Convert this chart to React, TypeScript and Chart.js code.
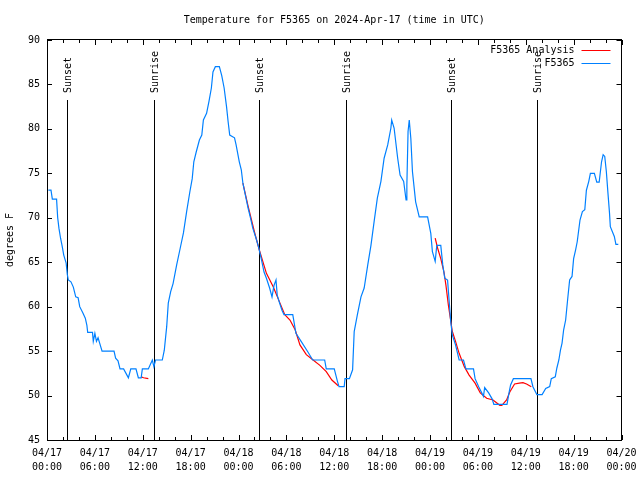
import React, { useEffect, useRef } from 'react';
import { Chart, registerables } from 'chart.js';

Chart.register(...registerables);

const FONT = '"DejaVu Sans Mono", "Liberation Mono", monospace';
const TITLE = 'Temperature for F5365 on 2024-Apr-17 (time in UTC)';
const Y_TITLE = 'degrees F';
const SERIES_NAMES = ['F5365 Analysis', 'F5365'];
const SERIES_COLORS = ['#ff0000', '#0080ff'];
const MONTH = '04';
const START_DAY = 17;
const X_MIN = 0;
const X_MAX = 72;
const X_MAJOR = 6;
const X_MINOR = 2;
const Y_MIN = 45;
const Y_MAX = 90;
const Y_STEP = 5;

const sunEventHours = [2.55, 13.44, 26.6, 37.5, 50.65, 61.43];
const sunEventLabels = ['Sunset', 'Sunrise', 'Sunset', 'Sunrise', 'Sunset', 'Sunrise'];

// Observed F5365 (hours since 04/17 00:00 UTC, deg F)
const obsHours = [
  0.17, 0.5, 0.67, 1.2, 1.34, 1.5, 1.7, 1.9, 2.1, 2.4, 2.55, 2.67, 3.0, 3.3, 3.6, 3.9, 4.1, 4.5, 4.8, 5.0,
  5.1, 5.7, 5.8, 6.0, 6.2, 6.4, 6.6, 6.9, 8.4, 8.6, 8.9, 9.15, 9.6, 10.2, 10.5, 11.15, 11.45, 11.8, 11.95, 12.7,
  13.2, 13.4, 13.6, 14.45, 14.7, 15.0, 15.2, 15.5, 15.8, 16.25, 16.7, 17.1, 17.5, 17.9, 18.2, 18.4, 18.7, 19.1, 19.4, 19.6,
  20.0, 20.3, 20.6, 20.8, 21.1, 21.6, 21.9, 22.2, 22.5, 22.7, 22.9, 23.5, 23.7, 23.9, 24.1, 24.35, 24.55, 24.85, 25.2, 25.5,
  25.8, 26.2, 26.5, 26.85, 27.2, 27.5, 27.9, 28.2, 28.45, 28.7, 28.85, 29.15, 29.45, 29.7, 30.8, 31.2, 31.85, 32.7, 33.3, 34.8,
  35.0, 36.0, 36.4, 36.6, 37.25, 37.35, 37.9, 38.3, 38.5, 38.9, 39.35, 39.75, 40.2, 40.6, 41.0, 41.4, 41.85, 42.25, 42.7, 43.1,
  43.2, 43.5, 43.95, 44.25, 44.7, 45.0, 45.1, 45.25, 45.4, 45.6, 45.8, 46.2, 46.65, 47.7, 48.1, 48.3, 48.65, 48.85, 49.35, 49.6,
  49.85, 50.2, 50.6, 50.8, 51.2, 51.65, 52.2, 52.5, 53.45, 53.65, 54.1, 54.5, 54.7, 54.85, 55.35, 55.8, 56.0, 57.65, 57.9, 58.1,
  58.45, 60.65, 60.9, 61.4, 62.05, 62.5, 63.0, 63.2, 63.7, 63.9, 64.15, 64.35, 64.55, 64.75, 65.0, 65.25, 65.5, 65.8, 66.0, 66.25,
  66.45, 66.8, 67.1, 67.4, 67.6, 67.9, 68.1, 68.6, 68.9, 69.2, 69.5, 69.7, 69.9, 70.1, 70.3, 70.5, 70.6, 71.1, 71.3, 71.6,
];
const obsTemps = [
  73.1, 73.1, 72.1, 72.1, 70, 68.8, 67.7, 66.8, 65.8, 64.9, 63.6, 63, 62.8, 62.2, 61.1, 61, 60, 59.3, 58.7, 57.9,
  57.1, 57.1, 56.1, 57, 56.1, 56.5, 55.9, 55, 55, 54.2, 53.9, 53, 53, 52, 53, 53, 52, 52, 53, 53,
  54, 53.25, 54, 54, 55.1, 57.75, 60.4, 61.7, 62.6, 64.7, 66.6, 68.3, 70.7, 72.9, 74.4, 76.3, 77.4, 78.75, 79.3, 81,
  81.75, 83.1, 84.6, 86.4, 87, 87, 86, 84.6, 82.5, 80.8, 79.3, 79, 78.2, 77.25, 76.3, 75.4, 73.9, 72.6, 71.1, 70,
  68.8, 67.7, 66.75, 65.4, 63.9, 63.2, 62.1, 61.1, 62.4, 63, 61.3, 60.4, 59.6, 59.1, 59.1, 57, 56.1, 54.9, 54, 54,
  53, 53, 51.6, 51, 51, 51.9, 51.9, 52.9, 57.2, 59.1, 61.1, 62.1, 64.7, 66.9, 69.6, 72.2, 74.1, 76.7, 78.2, 80.1,
  81, 80.1, 76.7, 74.8, 74.1, 72, 73.7, 79.7, 81, 78.9, 75.2, 71.8, 70.1, 70.1, 68.25, 66.2, 65.1, 66.9, 66.9, 64.7,
  63.2, 63, 58.3, 56.8, 55.7, 54, 54, 53, 53, 51.9, 51, 50.3, 49.9, 50.9, 50.3, 49.6, 49, 49, 50.3, 51.2,
  51.9, 51.9, 51, 50.1, 50.1, 50.8, 51, 51.9, 52.1, 53.1, 54, 55.1, 55.9, 57.4, 58.5, 60.8, 63, 63.4, 65.4, 66.4,
  67.3, 69.75, 70.7, 70.9, 73.1, 74.1, 75, 75, 74, 74, 76.3, 77.1, 76.9, 75.2, 72.8, 70.5, 69, 67.9, 67, 67,
];

// Analysis F5365 (null = gap between analysis runs)
const anaHours = [
  11.8, 12.1, 12.7, 13.0,
  24.55, 25.2, 26.0, 26.6, 27.5, 28.35, 29.2, 29.8, 30.45, 31.1, 31.7, 32.5, 33.35, 34.2, 35.0, 35.7, 36.5, 42.0,
  48.65, 48.95, 49.35, 49.75, 50.0, 50.3, 50.55, 50.8, 51.2, 51.65, 52.3, 52.9, 53.65, 54.3, 55.1, 55.9, 56.75, 57.0,
  57.6, 58.0, 58.6, 59.2, 59.65, 60.1, 60.7,
];
const anaTemps = [
  52.1, 52.0, 51.9, null,
  73.9, 71.3, 68.4, 66.4, 63.75, 62.25, 60.4, 59.1, 58.5, 57.4, 55.7, 54.6, 54.0, 53.4, 52.7, 51.75, 51.1, null,
  67.7, 66.6, 65.4, 63.9, 62.4, 60.2, 58.7, 57.2, 56.1, 54.75, 53.25, 52.3, 51.4, 50.3, 49.7, 49.5, 48.9, 48.9,
  49.5, 50.4, 51.3, 51.4, 51.45, 51.3, 51.0,
];

const toPoints = (xs: number[], ys: (number | null)[]) => xs.map((x, i) => ({ x, y: ys[i] }));

const decorPlugin = {
  id: 'gnuplotDecor',
  beforeDatasetsDraw(chart: any) {
    const { ctx, chartArea, scales } = chart;
    const xs = scales.x;
    ctx.save();
    ctx.strokeStyle = '#000';
    ctx.fillStyle = '#000';
    ctx.lineWidth = 1;
    ctx.font = `10px ${FONT}`;
    sunEventHours.forEach((h, i) => {
      const px = Math.round(xs.getPixelForValue(h)) + 0.5;
      ctx.beginPath();
      ctx.moveTo(px, chartArea.top + 60);
      ctx.lineTo(px, chartArea.bottom);
      ctx.stroke();
      ctx.save();
      ctx.translate(px + 1, chartArea.top + 53);
      ctx.rotate(-Math.PI / 2);
      ctx.textAlign = 'left';
      ctx.textBaseline = 'middle';
      ctx.fillText(sunEventLabels[i], 0, 0);
      ctx.restore();
    });
    ctx.restore();
  },
  afterDatasetsDraw(chart: any) {
    const { ctx, chartArea, scales } = chart;
    const xs = scales.x;
    const ys = scales.y;
    const { left, right, top, bottom } = chartArea;
    ctx.save();
    ctx.strokeStyle = '#000';
    ctx.lineWidth = 1;
    ctx.beginPath();
    for (let v = X_MIN; v <= X_MAX; v += X_MINOR) {
      const px = Math.round(xs.getPixelForValue(v)) + 0.5;
      const len = v % X_MAJOR === 0 ? 5 : 3;
      ctx.moveTo(px, bottom);
      ctx.lineTo(px, bottom - len);
      ctx.moveTo(px, top);
      ctx.lineTo(px, top + len);
    }
    for (let v = Y_MIN; v <= Y_MAX; v += Y_STEP) {
      const py = Math.round(ys.getPixelForValue(v)) + 0.5;
      ctx.moveTo(left, py);
      ctx.lineTo(left + 5, py);
      ctx.moveTo(right, py);
      ctx.lineTo(right - 5, py);
    }
    ctx.stroke();
    ctx.strokeRect(Math.round(left) + 0.5, Math.round(top) - 0.5, Math.round(right - left) - 1, Math.round(bottom - top) + 1);
    ctx.restore();
  },
  afterDraw(chart: any) {
    const { ctx, chartArea } = chart;
    ctx.save();
    ctx.fillStyle = '#000';
    ctx.font = `10px ${FONT}`;
    ctx.textBaseline = 'middle';
    ctx.textAlign = 'center';
    ctx.fillText(TITLE, (chartArea.left + chartArea.right) / 2, 20);
    // y title
    ctx.save();
    ctx.translate(10, (chartArea.top + chartArea.bottom) / 2);
    ctx.rotate(-Math.PI / 2);
    ctx.fillText(Y_TITLE, 0, 0);
    ctx.restore();
    // legend
    ctx.textAlign = 'right';
    SERIES_NAMES.forEach((name, i) => {
      const y = chartArea.top + 10 + i * 13;
      ctx.fillStyle = '#000';
      ctx.fillText(name, chartArea.right - 47, y);
      ctx.strokeStyle = SERIES_COLORS[i];
      ctx.lineWidth = 1;
      ctx.beginPath();
      ctx.moveTo(chartArea.right - 40, Math.round(y) + 0.5);
      ctx.lineTo(chartArea.right - 11, Math.round(y) + 0.5);
      ctx.stroke();
    });
    ctx.restore();
  },
};

export default function App() {
  const canvasRef = useRef<HTMLCanvasElement | null>(null);

  useEffect(() => {
    if (!canvasRef.current) return;
    const tickFont = { family: FONT, size: 10, lineHeight: 1.35 };
    const chart = new Chart(canvasRef.current, {
      type: 'line',
      data: {
        datasets: [
          {
            label: SERIES_NAMES[1],
            data: toPoints(obsHours, obsTemps),
            borderColor: SERIES_COLORS[1],
            borderWidth: 1.2,
            pointRadius: 0,
            tension: 0,
            fill: false,
          },
          {
            label: SERIES_NAMES[0],
            data: toPoints(anaHours, anaTemps),
            borderColor: SERIES_COLORS[0],
            borderWidth: 1.2,
            pointRadius: 0,
            tension: 0,
            fill: false,
            spanGaps: false,
          },
        ],
      },
      options: {
        animation: false,
        responsive: false,
        maintainAspectRatio: false,
        devicePixelRatio: 1,
        layout: { padding: { top: 40, right: 18.5, left: 0, bottom: 0 } },
        plugins: {
          legend: { display: false },
          title: { display: false },
          tooltip: { enabled: false },
        },
        scales: {
          x: {
            type: 'linear',
            min: X_MIN,
            max: X_MAX,
            grid: { display: false, drawTicks: false },
            border: { display: false },
            ticks: {
              stepSize: X_MAJOR,
              autoSkip: false,
              maxRotation: 0,
              minRotation: 0,
              padding: 7,
              color: '#000',
              font: tickFont,
              callback: (value: any) => {
                const v = Math.round(Number(value));
                const day = START_DAY + Math.floor(v / 24);
                const hr = v % 24;
                return [`${MONTH}/${day}`, `${String(hr).padStart(2, '0')}:00`];
              },
            },
            afterFit: (scale: any) => {
              scale.height = 40;
              scale.paddingLeft = 0;
              scale.paddingRight = 0;
            },
          },
          y: {
            min: Y_MIN,
            max: Y_MAX,
            grid: { display: false, drawTicks: false },
            border: { display: false },
            ticks: {
              stepSize: Y_STEP,
              padding: 7,
              color: '#000',
              font: { family: FONT, size: 10 },
            },
            afterFit: (scale: any) => {
              scale.width = 47;
              scale.paddingTop = 0;
              scale.paddingBottom = 0;
            },
          },
        },
      },
      plugins: [decorPlugin],
    });
    return () => chart.destroy();
  }, []);

  return (
    <div style={{ position: 'absolute', left: 0, top: 0, width: 640, height: 480, background: '#fff' }}>
      <canvas ref={canvasRef} width={640} height={480} style={{ display: 'block' }} />
    </div>
  );
}
